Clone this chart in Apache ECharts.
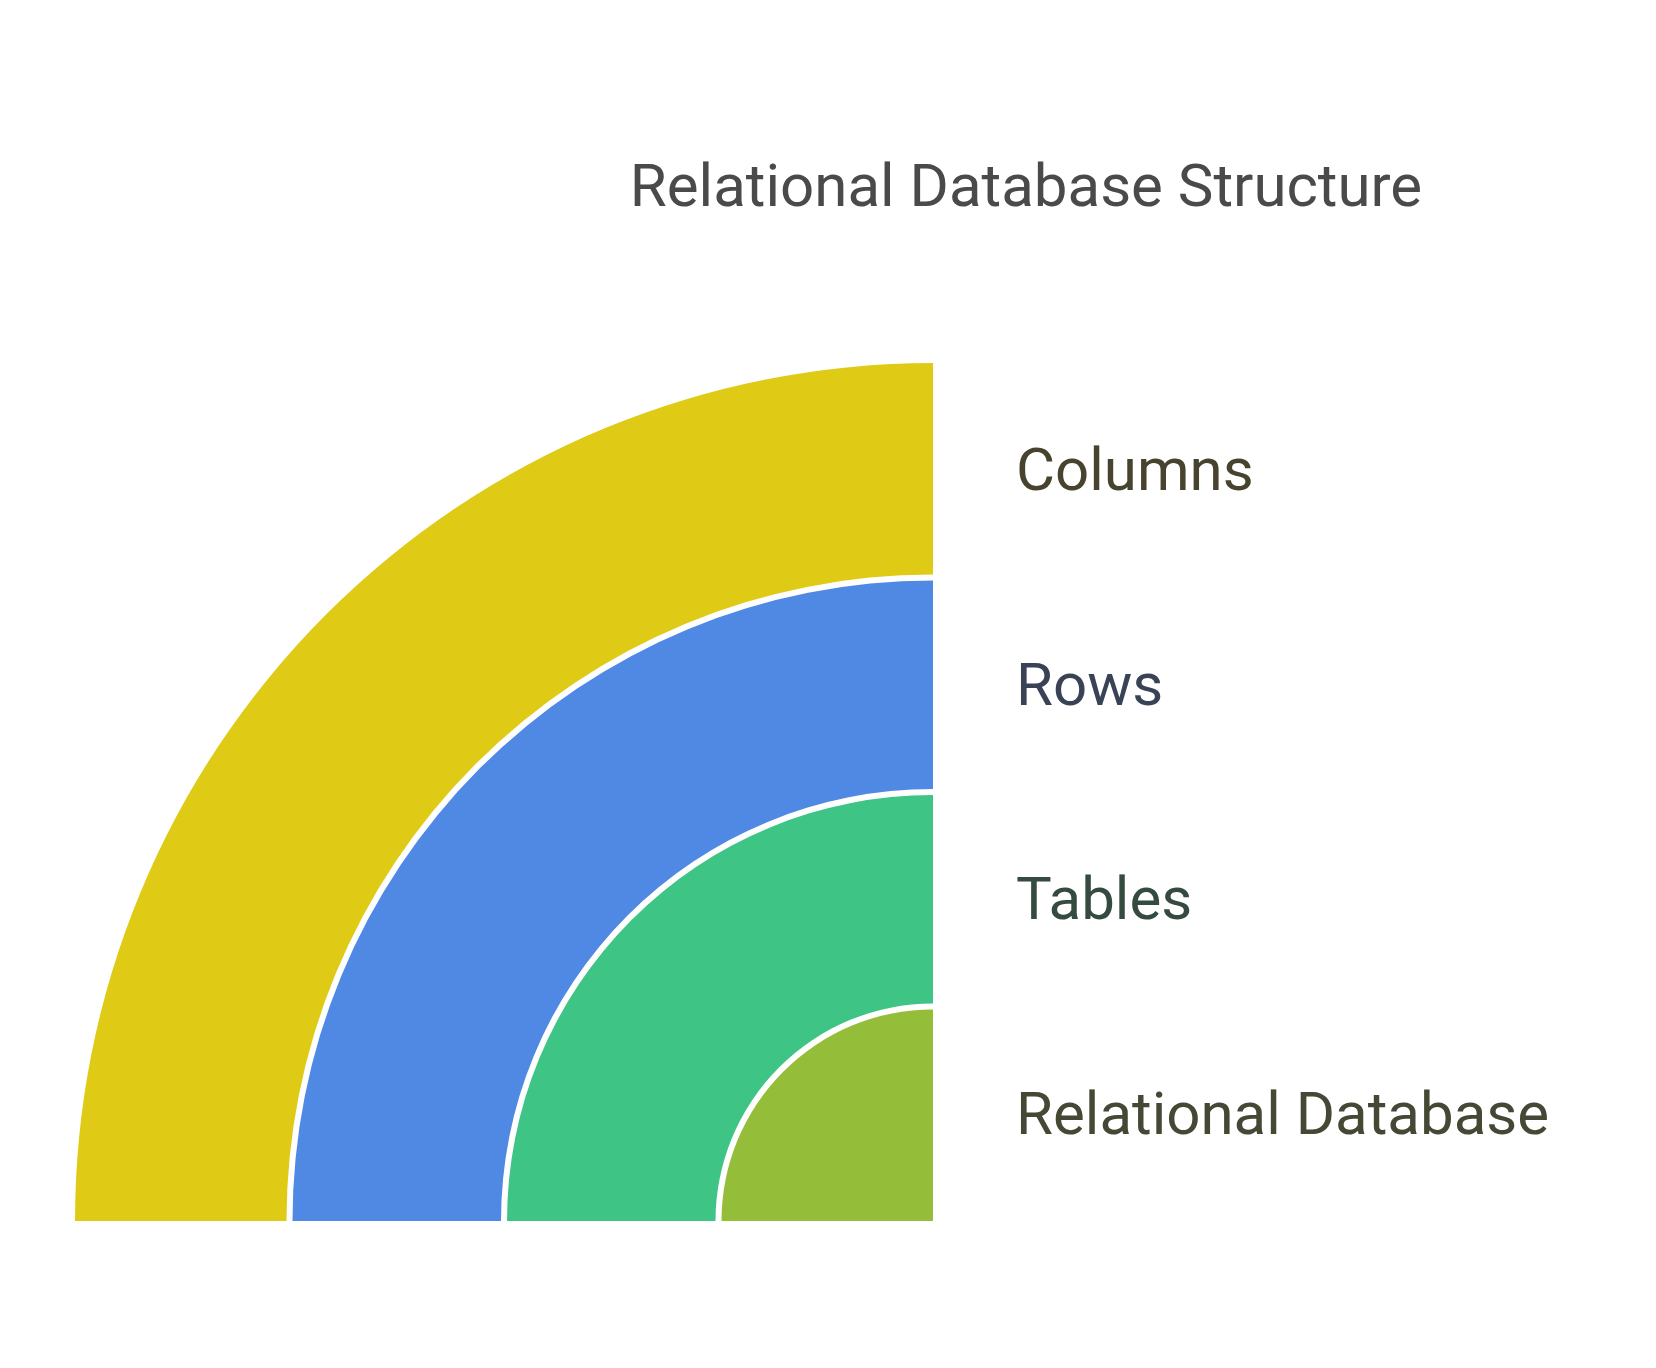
<!DOCTYPE html>
<html>
<head>
<meta charset="utf-8">
<title>Relational Database Structure</title>
<script src="https://cdn.jsdelivr.net/npm/echarts@6/dist/echarts.min.js"></script>
<style>
  html, body { margin: 0; padding: 0; background: #fff; }
  #chart { width: 1656px; height: 1368px; }
</style>
</head>
<body>
<div id="chart"></div>
<script>
// layers from innermost to outermost
const LAYERS = ["Relational Database", "Tables", "Rows", "Columns"];
const LAYER_VALUES = [1, 1, 1, 1];
const LAYER_COLORS = ["#94bd3a", "#3ec585", "#4f89e4", "#dfcb16"];
const LABEL_COLORS = ["#454834", "#354b40", "#3a4356", "#48432e"];
const TITLE = "Relational Database Structure";

function launchChart() {
    const dom = document.getElementById('chart');
    const chart = echarts.init(dom);
    const cfg = {
        cx: 933,
        cy: 1221,
        ring: 214.5,
        gap: 3,
        labelX: 1016,
        labelDy: 5,
        fontSize: 60,
        font: 'Roboto, "Noto Sans", sans-serif'
    };

    const series = LAYERS.map((name, i) => {
        const inner = i === 0 ? 0 : cfg.ring * i + cfg.gap;
        const outer = i === LAYERS.length - 1 ? cfg.ring * (i + 1) : cfg.ring * (i + 1) - cfg.gap;
        return {
            type: 'pie',
            name: name,
            center: [cfg.cx, cfg.cy],
            radius: [inner, outer],
            startAngle: 180,
            endAngle: 90,
            clockwise: true,
            silent: true,
            animation: false,
            label: { show: false },
            labelLine: { show: false },
            itemStyle: { color: LAYER_COLORS[i], borderWidth: 0 },
            data: [{ name: name, value: LAYER_VALUES[i] }]
        };
    });

    const labels = LAYERS.map((name, i) => ({
        type: 'text',
        x: cfg.labelX,
        y: cfg.cy - cfg.ring * (i + 0.5) + cfg.labelDy,
        style: {
            text: name,
            fill: LABEL_COLORS[i],
            font: '400 ' + cfg.fontSize + 'px ' + cfg.font,
            textAlign: 'left',
            textVerticalAlign: 'middle'
        }
    }));

    chart.setOption({
        backgroundColor: '#ffffff',
        title: {
            text: TITLE,
            left: 1021,
            top: 156,
            textAlign: 'center',
            textStyle: {
                color: '#4a4a4a',
                fontSize: cfg.fontSize,
                fontWeight: 'normal',
                fontFamily: 'Roboto'
            }
        },
        graphic: { elements: labels },
        series: series
    });
}

launchChart();
</script>
</body>
</html>
